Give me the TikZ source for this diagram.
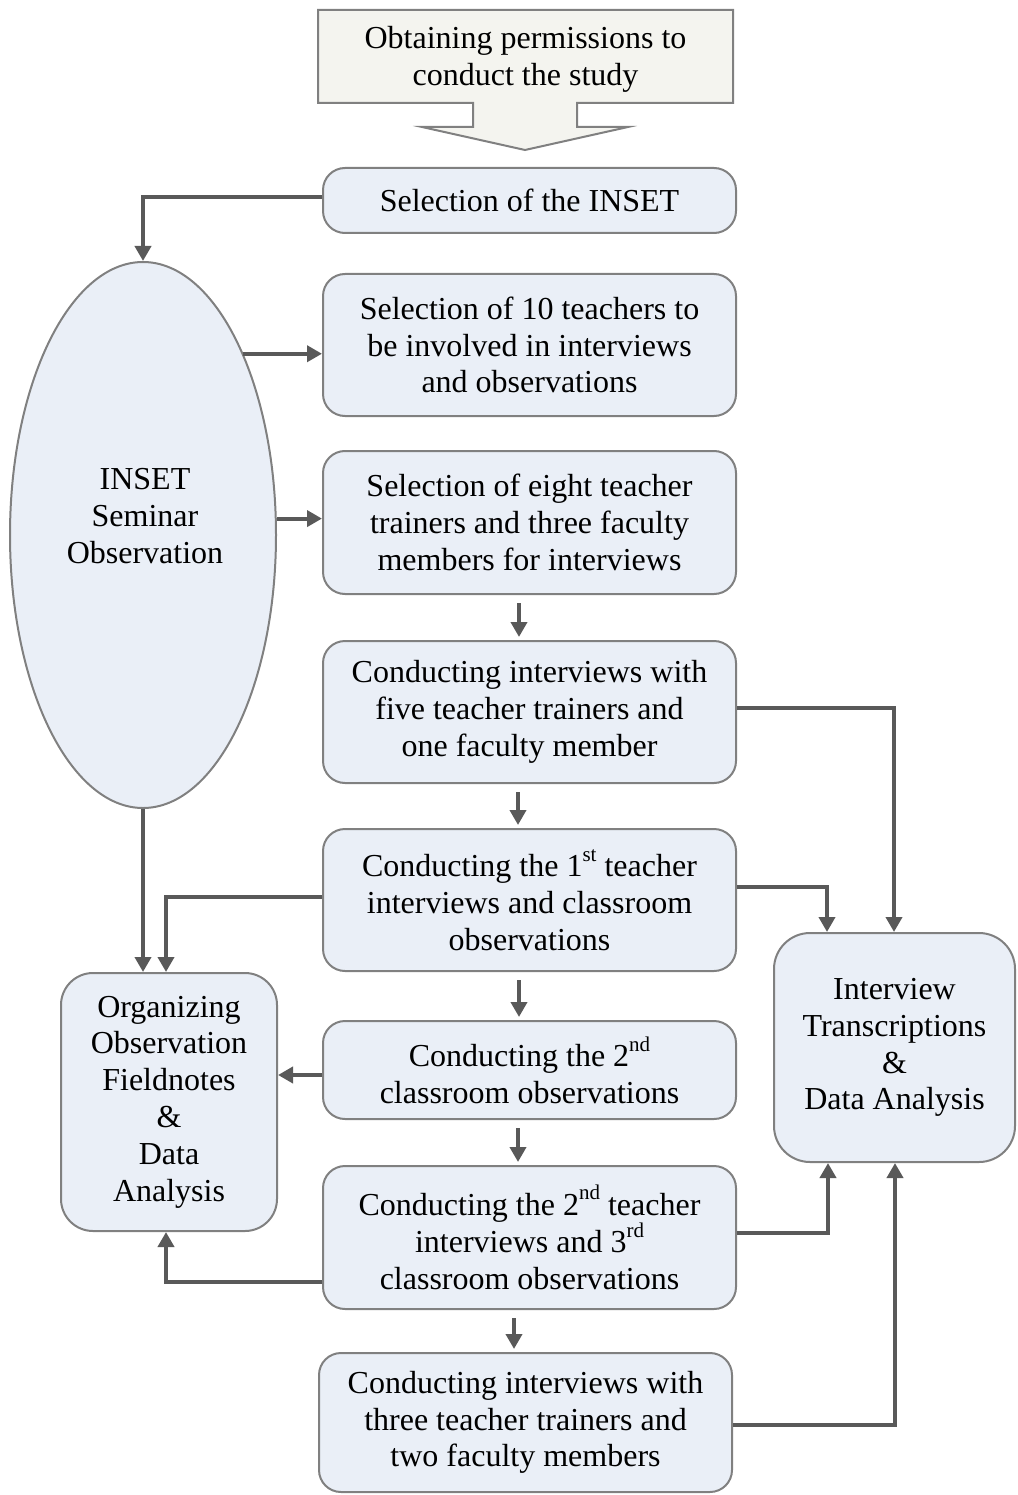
\documentclass[tikz,border=0pt]{standalone}
\usepackage{fontspec}
\setmainfont{Liberation Serif}
\usetikzlibrary{arrows.meta,shapes.geometric}
\definecolor{boxfill}{HTML}{EAEFF7}
\definecolor{boxline}{HTML}{808080}
\definecolor{arrowgray}{HTML}{595959}
\definecolor{permfill}{HTML}{F4F4EF}
% ordinal suffix set as a raised, smaller superscript
\newcommand{\ordsup}[1]{\raisebox{0.48em}{\fontsize{21}{21}\selectfont #1}}

\begin{document}
\begin{tikzpicture}[x=1pt,y=-1pt,
  font=\fontsize{32}{36.8}\selectfont,
  stepbox/.style={draw=boxline, fill=boxfill, line width=2pt, rounded corners=22pt,
    minimum width=413pt, align=center, inner sep=0pt},
  sidebox/.style={draw=boxline, fill=boxfill, line width=2pt, rounded corners=32pt,
    align=center, inner sep=0pt},
  conn/.style={draw=arrowgray, line width=4pt, -{Triangle[length=15pt,width=16pt]}},
  gapped/.style={shorten <=8pt, shorten >=3pt}]

\path[use as bounding box] (0,0) rectangle (1017,1495);

% block arrow at the top
\draw[draw=boxline, fill=permfill, line width=2pt, line join=miter]
  (318,10) -- (733,10) -- (733,103) -- (577,103) -- (577,127) -- (628,127)
  -- (525,150) -- (422,127) -- (473,127) -- (473,103) -- (318,103) -- cycle;
\node[align=center] (perm) at (525.5,59) {Obtaining permissions to\\conduct the study};

% main column of steps
\node[stepbox, minimum height=65pt]  (b1) at (529.5,200.5) {Selection of the INSET};
\node[stepbox, minimum height=142pt] (b2) at (529.5,345)
  {Selection of 10 teachers to\\be involved in interviews\\and observations};
\node[stepbox, minimum height=143pt] (b3) at (529.5,522.5)
  {Selection of eight teacher\\trainers and three faculty\\members for interviews};
\node[stepbox, minimum height=142pt] (b4) at (529.5,712)
  {Conducting interviews with\\five teacher trainers and\\one faculty member};
\node[stepbox, minimum height=142pt] (b5) at (529.5,900)
  {Conducting the 1\ordsup{st} teacher\\interviews and classroom\\observations};
\node[stepbox, minimum height=98pt]  (b6) at (529.5,1070)
  {Conducting the 2\ordsup{nd}\\classroom observations};
\node[stepbox, minimum height=143pt] (b7) at (529.5,1237.5)
  {Conducting the 2\ordsup{nd} teacher\\interviews and 3\ordsup{rd}\\classroom observations};
\node[stepbox, minimum height=139pt] (b8) at (525.5,1422.5)
  {Conducting interviews with\\three teacher trainers and\\two faculty members};

% seminar observation ellipse
\node[ellipse, draw=boxline, fill=boxfill, line width=2pt, minimum width=266pt,
  minimum height=546pt, inner sep=0pt] (ell) at (143,535) {};
\node[align=center] (elltext) at (145,516) {INSET\\Seminar\\Observation};

% side boxes
\node[sidebox, minimum width=216pt, minimum height=258pt] (org) at (169,1102)
  {Organizing\\Observation\\Fieldnotes\\\&\\Data\\Analysis};
\node[sidebox, minimum width=241pt, minimum height=229pt, rounded corners=36pt] (intv) at (894.5,1047.5)
  {Interview\\Transcriptions\\\&\\Data Analysis};

% connectors
\draw[conn] ([yshift=3pt]b1.west) -| (ell.north);
\draw[conn] (ell.61.4) -- (ell.61.4 -| b2.west);
\draw[conn] (ell.7.3) -- (ell.7.3 -| b3.west);

\draw[conn, gapped] (b3.south -| 519,0) -- (b4.north -| 519,0);
\draw[conn, gapped] (b4.south -| 518,0) -- (b5.north -| 518,0);
\draw[conn, gapped] (b5.south -| 519,0) -- (b6.north -| 519,0);
\draw[conn, gapped] (b6.south -| 518,0) -- (b7.north -| 518,0);
\draw[conn, gapped] (b7.south -| 514,0) -- (b8.north -| 514,0);

\draw[conn] ([yshift=4pt]b4.east) -| ([xshift=-0.5pt]intv.north);
\draw[conn] ([yshift=13pt]b5.east) -| ([xshift=-67.5pt]intv.north);
\draw[conn] ([yshift=4.5pt]b7.east) -| ([xshift=-66.5pt]intv.south);
\draw[conn] ([yshift=-2.5pt]b8.east) -| ([xshift=0.5pt]intv.south);

\draw[conn] (ell.south) -- (ell.south |- org.north);
\draw[conn] ([yshift=3pt]b5.west) -| ([xshift=-3pt]org.north);
\draw[conn] ([yshift=-5pt]b6.west) -- ([yshift=-5pt]b6.west -| org.east);
\draw[conn] ([yshift=-44.5pt]b7.west) -| ([xshift=-3pt]org.south);

\end{tikzpicture}
\end{document}
